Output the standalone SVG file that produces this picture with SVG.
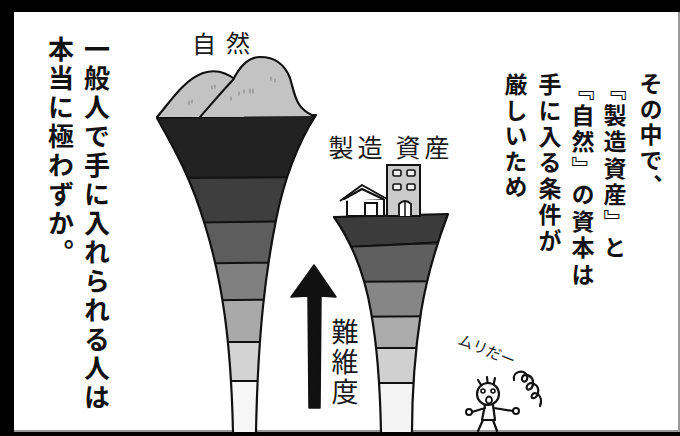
<svg xmlns="http://www.w3.org/2000/svg" width="680" height="436" viewBox="0 0 680 436">
  <style>
    .narr { font-family: "Noto Sans CJK JP", "Noto Sans", sans-serif; font-weight: 700; fill: #111; writing-mode: vertical-rl; }
    .hand { font-family: "Noto Sans CJK JP", "Noto Sans", sans-serif; font-weight: 400; fill: #1a1a1a; }
    .vert { writing-mode: vertical-rl; }
    .ink { fill: none; stroke: #111; stroke-width: 2.2; stroke-linecap: round; stroke-linejoin: round; }
    .band-line { stroke: #111; stroke-width: 2; }
    .speck { stroke: #8a8a8a; stroke-width: 1.2; stroke-linecap: round; }
  </style>
  <defs>
    <clipPath id="clip-nature">
      <path d="M157,118 L316,115 C300,140 285,175 276,220 C266,270 258,330 256,432 L233,432 C231,340 222,280 205,225 C190,175 172,145 157,118 Z"/>
    </clipPath>
    <clipPath id="clip-made">
      <path d="M334,217 L448,214 C440,235 428,270 421,312 C416,345 412,380 412,432 L381,432 C380,380 377,345 371,312 C364,270 350,240 334,217 Z"/>
    </clipPath>
  </defs>

  <!-- panel frame -->
  <g id="frame">
    <rect x="0" y="0" width="680" height="436" fill="#000"/>
    <rect x="14" y="12" width="664" height="420" fill="#fff"/>
    <rect x="678" y="12" width="2" height="420" fill="#9a9a9a"/>
    <rect x="14" y="430" width="664" height="2" fill="#9a9a9a"/>
  </g>

  <!-- narration, left -->
  <g id="text-left">
    <text class="narr" x="97" y="36" font-size="26" letter-spacing="3">一般人で手に入れられる人は</text>
    <text class="narr" x="61" y="36" font-size="26" letter-spacing="3">本当に極わずか。</text>
  </g>

  <!-- funnel: nature -->
  <g id="funnel-nature">
    <g clip-path="url(#clip-nature)">
      <rect x="150" y="100" width="175" height="78" fill="#222"/>
      <rect x="150" y="178" width="175" height="44" fill="#3e3e3e"/>
      <rect x="150" y="222" width="175" height="41" fill="#5d5d5d"/>
      <rect x="150" y="263" width="175" height="37" fill="#808080"/>
      <rect x="150" y="300" width="175" height="42" fill="#a9a9a9"/>
      <rect x="150" y="342" width="175" height="39" fill="#d3d3d3"/>
      <rect x="150" y="381" width="175" height="55" fill="#f6f6f6"/>
      <path class="band-line" d="M150,178 L325,177 M150,223 L325,221 M150,264 L325,262 M150,301 L325,299 M150,342 L325,342 M150,381 L325,381"/>
    </g>
    <path class="ink" d="M157,118 L316,115 C300,140 285,175 276,220 C266,270 258,330 256,432 M233,432 C231,340 222,280 205,225 C190,175 172,145 157,118"/>
  </g>

  <!-- mountains on top -->
  <g id="mountains">
    <path d="M157,117 C168,105 183,80 203,73 C215,69 226,72 236,80 L244,117 Z" fill="#c3c3c3"/>
    <path class="ink" d="M157,117 C168,105 183,80 203,73 C215,69 226,72 236,80"/>
    <path d="M200,117 C215,100 225,88 233,80 C240,66 248,57 260,57 C275,57 285,65 290,78 C294,92 296,103 303,109 C307,113 311,115 315,116 Z" fill="#c3c3c3"/>
    <path class="ink" d="M200,117 C215,100 225,88 233,80 C240,66 248,57 260,57 C275,57 285,65 290,78 C294,92 296,103 303,109 C307,113 311,115 315,116"/>
    <path class="speck" d="M189,101 v3 M192,100 v3 M212,86 v3 M215,85 v3 M231,97 v3 M239,92 v3 M244,90 v3 M250,89 v4 M253,89 v4 M271,77 v3 M275,79 v3"/>
  </g>
  <g id="label-nature">
    <text class="hand" x="204" y="53" font-size="24" text-anchor="middle">自</text>
    <text class="hand" x="238" y="52" font-size="24" text-anchor="middle">然</text>
  </g>

  <!-- funnel: manufactured assets -->
  <g id="funnel-made">
    <g clip-path="url(#clip-made)">
      <rect x="330" y="205" width="125" height="41" fill="#3b3b3b"/>
      <rect x="330" y="245" width="125" height="37" fill="#5f5f5f"/>
      <rect x="330" y="282" width="125" height="35" fill="#868686"/>
      <rect x="330" y="317" width="125" height="31" fill="#ababab"/>
      <rect x="330" y="348" width="125" height="35" fill="#d0d0d0"/>
      <rect x="330" y="383" width="125" height="53" fill="#f3f3f3"/>
      <path class="band-line" d="M330,247 Q390,246 455,241 M330,282 L455,281 M330,317 L455,316 M330,348 L455,348 M330,383 L455,383"/>
    </g>
    <path class="ink" d="M334,217 L448,214 C440,235 428,270 421,312 C416,345 412,380 412,432 M381,432 C380,380 377,345 371,312 C364,270 350,240 334,217"/>
  </g>

  <!-- house and building on top -->
  <g id="buildings">
    <rect x="347" y="199" width="37" height="17" fill="#fff" stroke="#111" stroke-width="2"/>
    <path d="M340,201 L362,185 L387,199" fill="#fff" stroke="#111" stroke-width="2" stroke-linejoin="round"/>
    <path class="ink" d="M344,199 L362,189 L383,199"/>
    <rect x="365" y="203" width="12" height="13" fill="#fff" stroke="#111" stroke-width="2"/>
    <rect x="387" y="165" width="33" height="51" fill="#cbcbcb" stroke="#111" stroke-width="2"/>
    <rect x="393" y="170" width="8" height="6" rx="1.5" fill="#eee" stroke="#111" stroke-width="1.6"/>
    <rect x="407" y="170" width="8" height="6" rx="1.5" fill="#eee" stroke="#111" stroke-width="1.6"/>
    <rect x="393" y="184" width="8" height="6" rx="1.5" fill="#eee" stroke="#111" stroke-width="1.6"/>
    <rect x="407" y="184" width="8" height="6" rx="1.5" fill="#eee" stroke="#111" stroke-width="1.6"/>
    <path d="M399,216 V204 Q405,198 411,204 V216" fill="#fff" stroke="#111" stroke-width="1.8"/>
    <path d="M405,201 V216" stroke="#111" stroke-width="1.5"/>
  </g>
  <g id="label-made">
    <text class="hand" x="341" y="157" font-size="25" text-anchor="middle">製</text>
    <text class="hand" x="370" y="157" font-size="25" text-anchor="middle">造</text>
    <text class="hand" x="408" y="157" font-size="25" text-anchor="middle">資</text>
    <text class="hand" x="437" y="157" font-size="25" text-anchor="middle">産</text>
  </g>

  <!-- difficulty arrow -->
  <g id="arrow">
    <path d="M314,265 L336,297 L321,296 L320,408 L309,408 L308,296 L291,297 Z" fill="#111" stroke="#111" stroke-width="1.5" stroke-linejoin="round"/>
  </g>
  <g id="label-difficulty">
    <text class="hand vert" x="345" y="318" font-size="27" letter-spacing="3">難維度</text>
  </g>

  <!-- narration, right -->
  <g id="text-right">
    <text class="narr" x="651" y="72" font-size="23" letter-spacing="2.5">その中で、</text>
    <text class="narr" x="615" y="77" font-size="23" letter-spacing="3.5">『製造資産』と</text>
    <text class="narr" x="583" y="77" font-size="23" letter-spacing="3.5">『自然』の資本は</text>
    <text class="narr" x="550" y="73" font-size="23" letter-spacing="3">手に入る条件が</text>
    <text class="narr" x="516" y="73" font-size="23" letter-spacing="2.5">厳しいため</text>
  </g>

  <!-- little figure -->
  <g id="figure">
    <text class="hand" font-size="15" transform="translate(457,344) rotate(22)">ムリだー</text>
    <path class="ink" d="M478,380 L483,388 M487,377 L488,387 M495,378 L493,387"/>
    <circle cx="488" cy="394" r="11" fill="#fff" stroke="#111" stroke-width="2.2"/>
    <circle cx="483" cy="391" r="2" fill="none" stroke="#111" stroke-width="1.6"/>
    <circle cx="493" cy="391" r="2" fill="none" stroke="#111" stroke-width="1.6"/>
    <ellipse cx="489" cy="400" rx="3" ry="3.5" fill="#fff" stroke="#111" stroke-width="1.8"/>
    <path class="ink" d="M485,405 L482,420 L495,420 L493,405 M483,420 L478,431 M493,420 L497,431 M485,408 L472,412 M494,408 L513,411"/>
    <circle cx="469" cy="412" r="3" fill="#fff" stroke="#111" stroke-width="2"/>
    <circle cx="516" cy="411" r="3" fill="#fff" stroke="#111" stroke-width="2"/>
    <path class="ink" d="M514,380 C512,372 524,368 527,376 C529,382 521,384 522,378 C523,372 534,375 533,384 C532,391 525,391 527,386 C529,380 540,384 538,393 C536,400 530,399 532,395 C534,390 544,395 540,406"/>
  </g>
</svg>
